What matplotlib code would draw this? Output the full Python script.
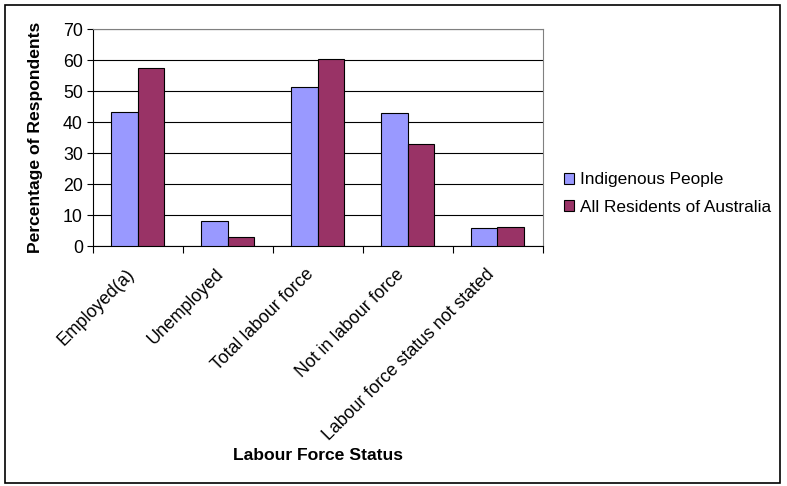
import matplotlib
matplotlib.use("Agg")
import matplotlib.pyplot as plt
import matplotlib.transforms as mtrans
import numpy as np
from matplotlib.patches import Rectangle

categories = ["Employed(a)", "Unemployed", "Total labour force",
              "Not in labour force", "Labour force status not stated"]
indigenous = [43.3, 8.1, 51.3, 42.9, 6.0]
all_residents = [57.3, 3.0, 60.3, 33.1, 6.3]
series_names = ["Indigenous People", "All Residents of Australia"]
yticks = [0, 10, 20, 30, 40, 50, 60, 70]

plt.rcParams['font.family'] = ['Liberation Sans', 'DejaVu Sans']

fig = plt.figure(figsize=(7.87, 4.86), dpi=100)
W, H = 787, 486
ax = fig.add_axes([92.5 / W, 1 - 246.5 / H, (542.5 - 92.5) / W, (246.5 - 29) / H])

x = np.arange(len(categories))
bw = 0.29
ax.bar(x - bw / 2, indigenous, bw, color="#9999FF", edgecolor="#000000",
       linewidth=0.8, label=series_names[0], zorder=3)
ax.bar(x + bw / 2, all_residents, bw, color="#993366", edgecolor="#000000",
       linewidth=0.8, label=series_names[1], zorder=3)

ax.set_xlim(-0.5, len(categories) - 0.5)
ax.set_ylim(0, 70)
ax.set_yticks(yticks)
ax.yaxis.grid(True, color="black", linewidth=0.8, zorder=0)
ax.set_axisbelow(True)
ax.tick_params(axis='y', labelsize=12.8, length=4, width=0.8, direction='out', pad=3)

ax.set_xticks(np.arange(len(categories) + 1) - 0.5, minor=False)
ax.set_xticklabels([])
ax.tick_params(axis='x', length=5, width=0.8, direction='out')
ax.set_xticks(x, minor=True)
ax.set_xticklabels(categories, minor=True, rotation=45, ha='right',
                   rotation_mode='anchor', fontsize=12.8)
ax.tick_params(axis='x', which='minor', length=0, pad=14)
offset = mtrans.ScaledTranslation(-12 / 100, 0, fig.dpi_scale_trans)
for lbl in ax.get_xticklabels(minor=True):
    lbl.set_transform(lbl.get_transform() + offset)

for s in ['top', 'right']:
    ax.spines[s].set_color('#808080')
    ax.spines[s].set_linewidth(0.8)
for s in ['left', 'bottom']:
    ax.spines[s].set_color('black')
    ax.spines[s].set_linewidth(0.8)

ax.set_ylabel("Percentage of Respondents", fontsize=12.6, fontweight='bold', labelpad=14)
fig.text(318 / W, 1 - 456 / H, "Labour Force Status", fontsize=12.6,
         fontweight='bold', ha='center', va='center')

fig.legend(loc='center left', bbox_to_anchor=(564 / W, 1 - 193.5 / H),
           frameon=False, fontsize=12.4, handlelength=0.6, handleheight=0.6,
           handletextpad=0.3, labelspacing=0.7, borderaxespad=0,
           borderpad=0)

fig.patches.append(Rectangle((5 / W, 3.5 / H), 775 / W, 477 / H,
                             transform=fig.transFigure, fill=False,
                             edgecolor='black', linewidth=1.2))

fig.savefig("out.png", dpi=100)
